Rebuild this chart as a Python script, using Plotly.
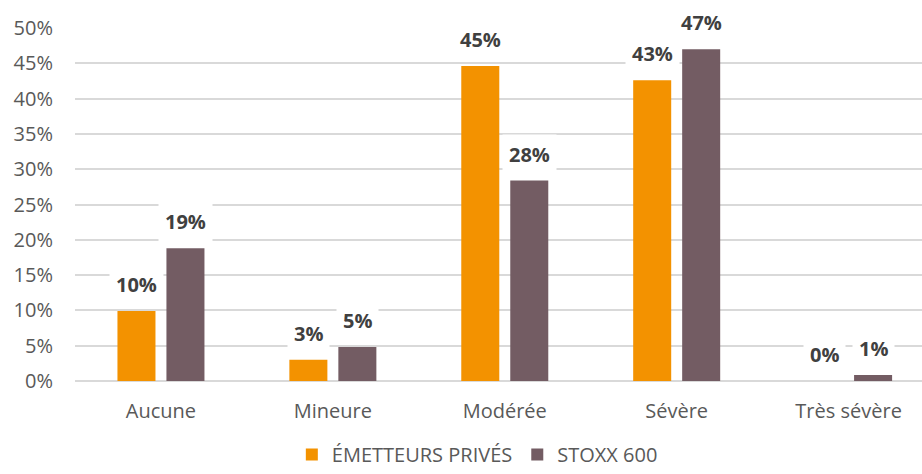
import plotly.graph_objects as go

categories = ["Aucune", "Mineure", "Modérée", "Sévère", "Très sévère"]
series_names = ["ÉMETTEURS PRIVÉS", "STOXX 600"]
emetteurs = [0.099, 0.030, 0.446, 0.426, 0.0]
stoxx = [0.188, 0.048, 0.284, 0.470, 0.0085]
y_ticks = [0, 0.05, 0.10, 0.15, 0.20, 0.25, 0.30, 0.35, 0.40, 0.45, 0.50]

colors = ["#F39200", "#735C63"]
font_family = "Open Sans"
tick_color = "#595959"
label_color = "#404040"

fig = go.Figure()
for name, vals, col in zip(series_names, [emetteurs, stoxx], colors):
    fig.add_trace(go.Bar(
        x=categories, y=vals, name=name,
        marker=dict(color=col, line=dict(width=0)),
    ))

# value labels on white boxes, offset to each bar of the group
offsets = [-24.5, 24.5]
for vals, dx in zip([emetteurs, stoxx], offsets):
    for cat, v in zip(categories, vals):
        fig.add_annotation(
            x=cat, y=v, text=f"<b>{v:.0%}</b>",
            xanchor="center", yanchor="bottom", xshift=dx, yshift=6,
            showarrow=False, bgcolor="white", borderpad=6,
            font=dict(family=font_family, size=20, color=label_color),
        )

fig.update_layout(
    width=922, height=474,
    margin=dict(l=75, r=0, t=28, b=93, autoexpand=False),
    paper_bgcolor="white", plot_bgcolor="white",
    barmode="group", bargap=0.43, bargroupgap=0.224,
    font=dict(family=font_family, size=20, color=tick_color),
    showlegend=True,
    legend=dict(
        orientation="h", x=0.256, xanchor="left",
        yref="container", y=0, yanchor="bottom",
        font=dict(family=font_family, size=20, color=tick_color),
        itemwidth=30, traceorder="normal",
    ),
    xaxis=dict(
        type="category", range=[-0.5, 4.427], showgrid=False,
        showline=False, zeroline=False, ticks="",
        ticklabelstandoff=16,
        tickfont=dict(family=font_family, size=20, color=tick_color),
    ),
    yaxis=dict(
        range=[0, 0.5], tickvals=y_ticks, tickformat=".0%",
        showgrid=True, gridcolor="#D9D9D9", gridwidth=1.5,
        zeroline=True, zerolinecolor="#D9D9D9", zerolinewidth=1.5,
        showline=False, ticks="", ticklabelstandoff=21,
        tickfont=dict(family=font_family, size=20, color=tick_color),
    ),
)

fig.write_html("out.html")
